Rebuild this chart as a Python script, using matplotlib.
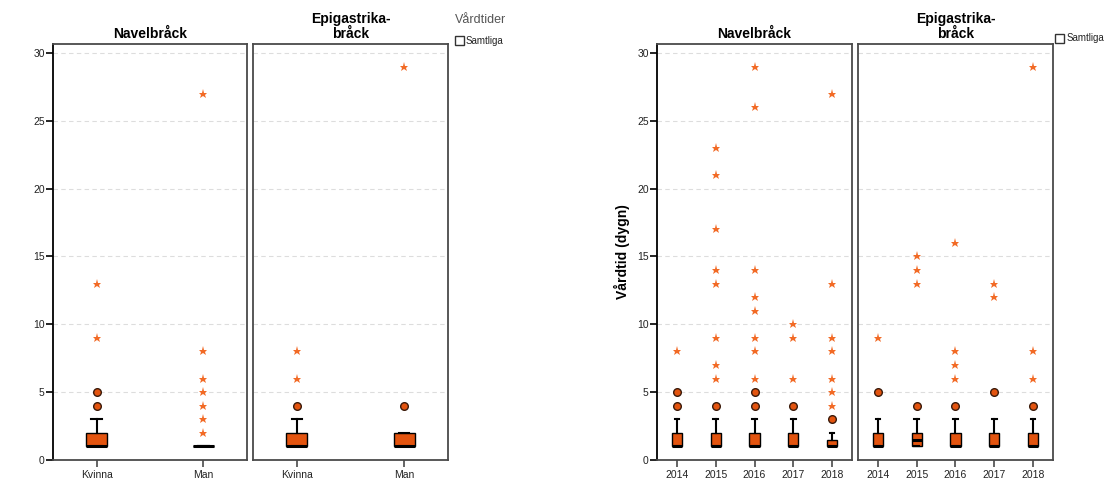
import matplotlib.pyplot as plt
from matplotlib.patches import Rectangle

plt.rcParams['font.family'] = ['Liberation Sans', 'DejaVu Sans']

# vänster diagram: kön
sex_labels = ['Kvinna', 'Man']
navel_sex_q1 = [1, 1]
navel_sex_med = [1, 1]
navel_sex_q3 = [2, 1]
navel_sex_lo = [1, 1]
navel_sex_hi = [3, 1]
navel_sex_circles = [[4, 5], []]
navel_sex_stars = [[9, 13], [2, 3, 4, 5, 6, 8, 27]]

epi_sex_q1 = [1, 1]
epi_sex_med = [1, 1]
epi_sex_q3 = [2, 2]
epi_sex_lo = [1, 1]
epi_sex_hi = [3, 2]
epi_sex_circles = [[4], [4]]
epi_sex_stars = [[6, 8], [29]]

# höger diagram: år
years = ['2014', '2015', '2016', '2017', '2018']
navel_year_q1 = [1, 1, 1, 1, 1]
navel_year_med = [1, 1, 1, 1, 1]
navel_year_q3 = [2, 2, 2, 2, 1.5]
navel_year_lo = [1, 1, 1, 1, 1]
navel_year_hi = [3, 3, 3, 3, 2]
navel_year_circles = [[4, 5], [4], [4, 5], [4], [3]]
navel_year_stars = [[8], [6, 7, 9, 13, 14, 17, 21, 23],
                    [6, 8, 9, 11, 12, 14, 26, 29], [6, 9, 10],
                    [4, 5, 6, 8, 9, 13, 27]]

epi_year_q1 = [1, 1, 1, 1, 1]
epi_year_med = [1, 1.5, 1, 1, 1]
epi_year_q3 = [2, 2, 2, 2, 2]
epi_year_lo = [1, 1, 1, 1, 1]
epi_year_hi = [3, 3, 3, 3, 3]
epi_year_circles = [[5], [4], [4], [5], [4]]
epi_year_stars = [[9], [13, 14, 15], [6, 7, 8, 16], [12, 13], [6, 8, 29]]

BOX = '#e3540f'
STAR = '#f26a25'
FRAME = '#4a4a4a'
W, H = 1109, 482


def panel(rect, labels, q1, med, q3, lo, hi, circles, stars, bw, cw, xpad, first):
    ax = fig.add_axes([rect[0] / W, 1 - rect[3] / H, (rect[1] - rect[0]) / W,
                       (rect[3] - rect[2]) / H])
    pos = list(range(len(labels)))
    stats = []
    for i in pos:
        stats.append(dict(q1=q1[i], med=med[i], q3=q3[i], whislo=lo[i],
                          whishi=hi[i], fliers=[]))
    ax.bxp(stats, positions=pos, widths=bw, capwidths=cw, patch_artist=True,
           showfliers=False,
           boxprops=dict(facecolor=BOX, edgecolor='black', linewidth=1),
           medianprops=dict(color='black', linewidth=2.2, solid_capstyle='butt'),
           whiskerprops=dict(color='black', linewidth=1.5),
           capprops=dict(color='black', linewidth=1.5), zorder=3)
    for i in pos:
        ax.plot([i] * len(circles[i]), circles[i], 'o', ms=5.5,
                mfc=BOX, mec='#3a1a0a', mew=1, zorder=4)
        ax.plot([i] * len(stars[i]), stars[i], '*', ms=6.5,
                color=STAR, mew=0, zorder=4)
    ax.set_xlim(-xpad, len(labels) - 1 + xpad)
    ax.set_ylim(0, 30.66)
    ax.set_yticks([0, 5, 10, 15, 20, 25, 30])
    ax.set_xticks(pos)
    ax.set_xticklabels(labels, fontsize=7.5, color='#222222')
    ax.yaxis.grid(True, linestyle=(0, (4, 3)), color='#dddddd', linewidth=0.8)
    ax.set_axisbelow(True)
    for s in ax.spines.values():
        s.set_color(FRAME)
        s.set_linewidth(1.3)
    ax.tick_params(axis='x', length=5, width=1.2, color=FRAME, pad=2)
    if first:
        ax.spines['left'].set_color('black')
        ax.tick_params(axis='y', length=5, width=1.2, color='black',
                       labelsize=7.5, labelcolor='#222222', pad=1)
    else:
        ax.tick_params(axis='y', left=False, labelleft=False)
    return ax


fig = plt.figure(figsize=(11.09, 4.82), dpi=100)

# vänster
a1 = panel((53, 247, 44, 460), sex_labels, navel_sex_q1, navel_sex_med, navel_sex_q3,
           navel_sex_lo, navel_sex_hi, navel_sex_circles, navel_sex_stars,
           0.196, 0.1, 0.41, True)
a1.set_title('Navelbråck', fontsize=10, fontweight='bold', pad=4)
a2 = panel((253, 448, 44, 460), sex_labels, epi_sex_q1, epi_sex_med, epi_sex_q3,
           epi_sex_lo, epi_sex_hi, epi_sex_circles, epi_sex_stars,
           0.196, 0.1, 0.41, False)
a2.set_title('Epigastrika-\nbråck', fontsize=10, fontweight='bold', pad=4,
             linespacing=1.1)

# höger
a3 = panel((657, 852, 44, 460), years, navel_year_q1, navel_year_med, navel_year_q3,
           navel_year_lo, navel_year_hi, navel_year_circles, navel_year_stars,
           0.26, 0.12, 0.52, True)
a3.set_title('Navelbråck', fontsize=10, fontweight='bold', pad=4)
a3.set_ylabel('Vårdtid (dygn)', fontsize=10, fontweight='bold', labelpad=5)
a4 = panel((858, 1053, 44, 460), years, epi_year_q1, epi_year_med, epi_year_q3,
           epi_year_lo, epi_year_hi, epi_year_circles, epi_year_stars,
           0.26, 0.12, 0.52, False)
a4.set_title('Epigastrika-\nbråck', fontsize=10, fontweight='bold', pad=4,
             linespacing=1.1)

# legend
fig.text(455 / W, 1 - 20 / H, 'Vårdtider', fontsize=9, color='#555555', va='center')
fig.add_artist(Rectangle((455 / W, 1 - 45 / H), 9 / W, 9 / H, transform=fig.transFigure,
                         facecolor='white', edgecolor='#333333', linewidth=1))
fig.text(466 / W, 1 - 40.5 / H, 'Samtliga', fontsize=7, color='#222222', va='center')
fig.add_artist(Rectangle((1055 / W, 1 - 43 / H), 9 / W, 9 / H, transform=fig.transFigure,
                         facecolor='white', edgecolor='#333333', linewidth=1))
fig.text(1067 / W, 1 - 38.5 / H, 'Samtliga', fontsize=7, color='#222222', va='center')

fig.savefig('out.png', dpi=100)
plt.close()
